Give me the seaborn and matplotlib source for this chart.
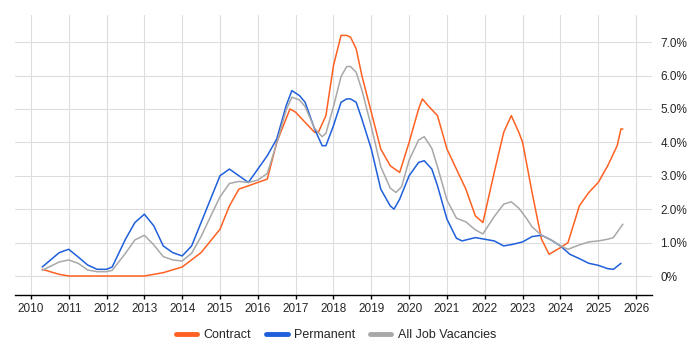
import pandas as pd
import numpy as np
import seaborn as sns
import matplotlib.pyplot as plt

# values (year, % of vacancies)
contract_x = [2010.3, 2010.75, 2011, 2012, 2013, 2013.5, 2014, 2014.5, 2015, 2015.25, 2015.5, 2016,
              2016.25, 2016.5, 2016.85, 2017, 2017.25, 2017.5, 2017.6, 2017.8, 2018, 2018.2, 2018.35,
              2018.45, 2018.6, 2018.75, 2019, 2019.25, 2019.5, 2019.75, 2020, 2020.25, 2020.35, 2020.5,
              2020.75, 2021, 2021.25, 2021.5, 2021.75, 2021.95, 2022.25, 2022.5, 2022.7, 2022.9, 2023,
              2023.25, 2023.5, 2023.7, 2024, 2024.2, 2024.5, 2024.75, 2025, 2025.25, 2025.5, 2025.6, 2025.65]
contract_y = [0.2, 0.05, 0.0, 0.0, 0.0, 0.1, 0.27, 0.7, 1.4, 2.1, 2.6, 2.8,
              2.9, 4.0, 5.0, 4.9, 4.6, 4.3, 4.3, 4.8, 6.3, 7.2, 7.2,
              7.15, 6.8, 6.0, 4.9, 3.8, 3.3, 3.1, 4.0, 5.0, 5.3, 5.1,
              4.8, 3.8, 3.2, 2.6, 1.8, 1.6, 3.1, 4.3, 4.8, 4.3, 4.0,
              2.5, 1.1, 0.65, 0.85, 1.0, 2.1, 2.5, 2.8, 3.3, 3.9, 4.4, 4.4]

perm_x = [2010.3, 2010.75, 2011, 2011.25, 2011.5, 2011.75, 2012, 2012.15, 2012.5, 2012.75, 2013, 2013.25,
          2013.5, 2013.75, 2014, 2014.25, 2014.5, 2014.75, 2015, 2015.25, 2015.5, 2015.75, 2016, 2016.25,
          2016.5, 2016.75, 2016.9, 2017.1, 2017.25, 2017.5, 2017.7, 2017.8, 2018, 2018.2, 2018.35, 2018.45,
          2018.6, 2018.75, 2019, 2019.25, 2019.5, 2019.6, 2019.75, 2020, 2020.25, 2020.4, 2020.6, 2020.75,
          2021, 2021.25, 2021.4, 2021.75, 2022, 2022.25, 2022.5, 2022.75, 2023, 2023.25, 2023.5, 2023.75,
          2024, 2024.25, 2024.5, 2024.75, 2025, 2025.25, 2025.4, 2025.6]
perm_y = [0.27, 0.7, 0.8, 0.57, 0.33, 0.2, 0.2, 0.27, 1.1, 1.6, 1.85, 1.5,
          0.9, 0.7, 0.6, 0.9, 1.6, 2.3, 3.0, 3.2, 3.0, 2.8, 3.2, 3.6,
          4.1, 5.1, 5.55, 5.4, 5.2, 4.4, 3.9, 3.9, 4.5, 5.2, 5.3, 5.3,
          5.2, 4.7, 3.8, 2.6, 2.1, 2.0, 2.3, 3.0, 3.4, 3.45, 3.2, 2.7,
          1.7, 1.13, 1.05, 1.15, 1.1, 1.05, 0.9, 0.95, 1.02, 1.18, 1.22, 1.08,
          0.9, 0.65, 0.52, 0.38, 0.32, 0.22, 0.2, 0.38]

all_x = [2010.3, 2010.75, 2011, 2011.25, 2011.5, 2011.75, 2012, 2012.15, 2012.5, 2012.75, 2013, 2013.25,
         2013.5, 2013.75, 2014, 2014.25, 2014.5, 2014.75, 2015, 2015.25, 2015.5, 2015.75, 2016, 2016.25,
         2016.5, 2016.75, 2016.9, 2017.1, 2017.25, 2017.5, 2017.7, 2017.8, 2018, 2018.2, 2018.35, 2018.45,
         2018.6, 2018.75, 2019, 2019.25, 2019.5, 2019.65, 2019.8, 2020, 2020.25, 2020.4, 2020.6, 2020.75,
         2021, 2021.25, 2021.5, 2021.75, 2021.95, 2022.25, 2022.5, 2022.7, 2022.9, 2023.1, 2023.25, 2023.5,
         2023.75, 2024, 2024.2, 2024.5, 2024.75, 2025, 2025.25, 2025.4, 2025.6, 2025.65]
all_y = [0.17, 0.42, 0.48, 0.38, 0.18, 0.13, 0.13, 0.17, 0.68, 1.08, 1.22, 0.93,
         0.58, 0.48, 0.45, 0.68, 1.18, 1.78, 2.37, 2.77, 2.83, 2.8, 2.87, 3.07,
         3.97, 4.97, 5.35, 5.27, 5.07, 4.42, 4.17, 4.27, 5.07, 5.97, 6.27, 6.27,
         6.1, 5.57, 4.47, 3.27, 2.63, 2.5, 2.67, 3.47, 4.07, 4.17, 3.82, 3.27,
         2.27, 1.73, 1.62, 1.38, 1.26, 1.78, 2.15, 2.22, 2.03, 1.73, 1.47, 1.22,
         1.08, 0.9, 0.8, 0.93, 1.02, 1.05, 1.1, 1.15, 1.47, 1.55]

series_names = ["Contract", "Permanent", "All Job Vacancies"]
colors = ["#FF6122", "#1F5FDB", "#A8A8A8"]
year_ticks = list(range(2010, 2027))
pct_ticks = [0, 1, 2, 3, 4, 5, 6, 7]

df = pd.concat([
    pd.DataFrame({"year": contract_x, "pct": contract_y, "series": series_names[0]}),
    pd.DataFrame({"year": perm_x, "pct": perm_y, "series": series_names[1]}),
    pd.DataFrame({"year": all_x, "pct": all_y, "series": series_names[2]}),
])

sns.set_style("white")
plt.rcParams['font.family'] = ['Liberation Sans', 'DejaVu Sans']

fig = plt.figure(figsize=(7, 3.5), dpi=100)
ax = fig.add_axes([0.0214, 0.157, 0.91, 0.8])

sns.lineplot(data=df, x="year", y="pct", hue="series", hue_order=series_names,
             palette=colors, linewidth=1.1, ax=ax, sort=False, estimator=None, legend=True)

ax.set_xlim(2009.58, 2026.42)
ax.set_ylim(-0.57, 7.81)
ax.set_xticks(year_ticks)
ax.set_xticklabels([str(y) for y in year_ticks], fontsize=8.5)
ax.set_yticks(pct_ticks)
ax.set_yticklabels(["0%"] + ["%.1f%%" % v for v in pct_ticks[1:]], fontsize=8.5)
ax.yaxis.tick_right()
ax.tick_params(axis='y', length=0, pad=6)
ax.tick_params(axis='x', length=3, width=1, color='black', direction='out', bottom=True, pad=3)
ax.grid(True, color='#dddddd', linewidth=0.8)
ax.set_axisbelow(True)
for s in ['top', 'left', 'right']:
    ax.spines[s].set_visible(False)
ax.spines['bottom'].set_color('black')
ax.spines['bottom'].set_linewidth(1)
ax.set_xlabel("")
ax.set_ylabel("")

handles, labels = ax.get_legend_handles_labels()
ax.get_legend().remove()
for h in handles:
    h.set_linewidth(3.5)
fig.legend(handles, labels, loc='center', bbox_to_anchor=(0.48, 0.043), ncol=3,
           frameon=False, fontsize=9, handlelength=1.7, handletextpad=0.5, columnspacing=1.2)

fig.savefig("out.png", dpi=100)
